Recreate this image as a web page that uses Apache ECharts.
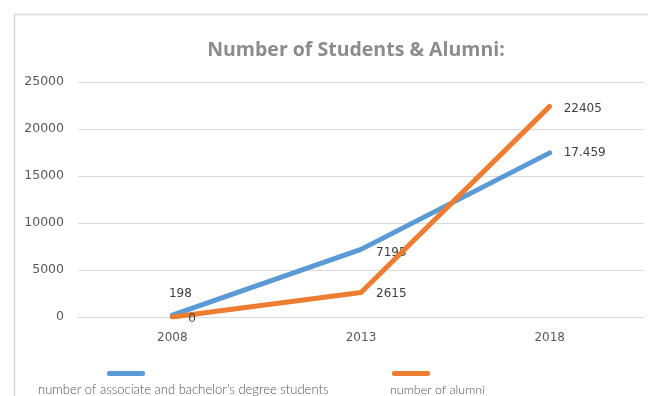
<!DOCTYPE html>
<html>
<head>
<meta charset="utf-8">
<script src="https://cdn.jsdelivr.net/npm/echarts@6/dist/echarts.min.js"></script>
<style>
  html, body { margin: 0; padding: 0; background: #ffffff; }
  #chart { width: 648px; height: 396px; }
</style>
</head>
<body>
<div id="chart"></div>
<script>
// Years on the category axis
const years = ['2008', '2013', '2018'];
// Enrolled associate and bachelor's degree students
const students = [198, 7195, 17459];
const studentLabels = ['198', '7195', '17.459'];
// Graduates
const alumni = [0, 2615, 22405];
const alumniLabels = ['0', '2615', '22405'];
// Value axis ticks
const yMax = 25000;
const yStep = 5000;

const seriesNames = [
  "number of associate and bachelor's degree students",
  'number of alumni'
];
const blue = '#5b9bd5';
const orange = '#ed7d31';

const labelFont = {
  fontFamily: 'DejaVu Sans',
  fontSize: 12,
  color: '#404040'
};

function pointData(values, labels, labelOpts) {
  return values.map((v, i) => ({
    value: v,
    label: Object.assign({ formatter: labels[i] }, labelOpts[i])
  }));
}

const chart = echarts.init(document.getElementById('chart'), null, { renderer: 'canvas' });

chart.setOption({
  animation: false,
  backgroundColor: '#ffffff',
  title: {
    text: 'Number of Students & Alumni:',
    left: 351,
    top: 35,
    textAlign: 'center',
    textStyle: {
      fontFamily: 'Open Sans',
      fontWeight: 'bold',
      fontSize: 19.5,
      color: '#8c8c8c'
    }
  },
  grid: { left: 78, right: 4, top: 82, bottom: 79 },
  xAxis: {
    type: 'category',
    data: years,
    boundaryGap: true,
    axisLine: { show: true, lineStyle: { color: '#d9d9d9', width: 1 } },
    axisTick: { show: false },
    axisLabel: {
      margin: 15,
      fontFamily: 'DejaVu Sans',
      fontSize: 12,
      color: '#595959'
    }
  },
  yAxis: {
    type: 'value',
    min: 0,
    max: yMax,
    interval: yStep,
    axisLine: { show: false },
    axisTick: { show: false },
    splitLine: { lineStyle: { color: '#d9d9d9', width: 1 } },
    axisLabel: {
      margin: 14,
      formatter: (v) => String(v),
      fontFamily: 'DejaVu Sans',
      fontSize: 12.5,
      color: '#595959'
    }
  },
  series: [
    {
      name: seriesNames[0],
      type: 'line',
      color: blue,
      symbol: 'circle',
      symbolSize: 2,
      lineStyle: { width: 5, color: blue, cap: 'round', join: 'round' },
      label: Object.assign({ show: true }, labelFont),
      data: pointData(students, studentLabels, [
        { position: 'top', distance: 14, offset: [8, 0] },
        { position: 'right', distance: 14, offset: [0, 4] },
        { position: 'right', distance: 13, offset: [0, 0] }
      ]),
      z: 2
    },
    {
      name: seriesNames[1],
      type: 'line',
      color: orange,
      symbol: 'circle',
      symbolSize: 2,
      lineStyle: { width: 5, color: orange, cap: 'round', join: 'round' },
      label: Object.assign({ show: true }, labelFont),
      data: pointData(alumni, alumniLabels, [
        { position: 'right', distance: 15, offset: [0, 2] },
        { position: 'right', distance: 14, offset: [0, 1] },
        { position: 'right', distance: 13, offset: [0, 2] }
      ]),
      z: 3
    }
  ],
  graphic: [
    {
      type: 'rect',
      left: 12, top: 12,
      shape: { width: 700, height: 500 },
      style: { fill: 'none', stroke: '#dadada', lineWidth: 1.5 },
      silent: true, z: -1
    },
    {
      type: 'rect',
      left: 107, top: 371,
      shape: { width: 38, height: 5, r: 2 },
      style: { fill: blue }
    },
    {
      type: 'rect',
      left: 392, top: 371,
      shape: { width: 38, height: 5, r: 2 },
      style: { fill: orange }
    },
    {
      type: 'text',
      left: 38, top: 383,
      style: {
        text: seriesNames[0],
        fontFamily: 'Lato',
        fontWeight: 300,
        fontSize: 13,
        fill: '#555555'
      }
    },
    {
      type: 'text',
      left: 390, top: 383,
      style: {
        text: seriesNames[1],
        fontFamily: 'Lato',
        fontWeight: 300,
        fontSize: 12.5,
        fill: '#555555'
      }
    }
  ]
});
</script>
</body>
</html>
